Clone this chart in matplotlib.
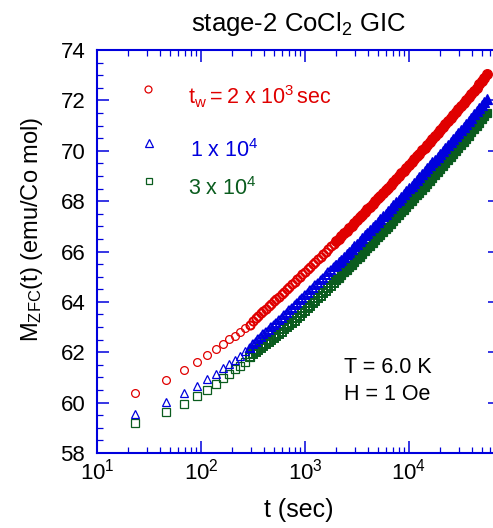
import numpy as np
import matplotlib
matplotlib.use('Agg')
import matplotlib.pyplot as plt
from matplotlib.ticker import LogLocator, MultipleLocator, NullFormatter

plt.rcParams['font.family'] = ['Liberation Sans', 'DejaVu Sans']
plt.rcParams['mathtext.fontset'] = 'custom'
plt.rcParams['mathtext.rm'] = 'Liberation Sans'
plt.rcParams['mathtext.it'] = 'Liberation Sans:italic'
plt.rcParams['mathtext.default'] = 'rm'

# elapsed time after field on (sec), same sampling for the three waiting times
t_sec = [23, 46, 69, 92, 115, 138, 161, 186, 211, 237, 265, 294,
         316, 335, 355, 376, 398, 422, 447, 473, 501, 531, 562, 596, 631, 668, 708, 750,
         794, 841, 891, 944, 1000, 1059, 1122, 1189, 1259, 1334, 1413, 1496, 1585, 1679,
         1778, 1884, 1995, 2113, 2239, 2371, 2512, 2661, 2818, 2985, 3162, 3350, 3548,
         3758, 3981, 4217, 4467, 4732, 5012, 5309, 5623, 5957, 6310, 6683, 7079, 7499,
         7943, 8414, 8913, 9441, 10000, 10593, 11220, 11885, 12589, 13335, 14125, 14962,
         15849, 16788, 17783, 18836, 19953, 21135, 22387, 23714, 25119, 26607, 28184,
         29854, 31623, 33497, 35481, 37584, 39811, 42170, 44668, 47315, 50119, 53088, 56234]

# M_ZFC (emu/Co mol) for t_w = 2e3 s
m_tw2e3 = [60.40, 60.88, 61.28, 61.62, 61.88, 62.12, 62.31, 62.51, 62.66, 62.81, 62.96, 63.10,
           63.26, 63.35, 63.45, 63.54, 63.64, 63.73, 63.82, 63.92, 64.02, 64.11, 64.21, 64.30,
           64.40, 64.50, 64.59, 64.69, 64.79, 64.89, 64.99, 65.09, 65.19, 65.29, 65.39, 65.49,
           65.59, 65.69, 65.79, 65.89, 65.99, 66.10, 66.20, 66.30, 66.41, 66.51, 66.61, 66.72,
           66.82, 66.93, 67.03, 67.14, 67.24, 67.35, 67.46, 67.57, 67.67, 67.78, 67.89, 68.00,
           68.11, 68.21, 68.32, 68.43, 68.54, 68.65, 68.77, 68.88, 68.99, 69.10, 69.21, 69.32,
           69.44, 69.55, 69.66, 69.78, 69.89, 70.01, 70.12, 70.24, 70.35, 70.47, 70.58, 70.70,
           70.82, 70.93, 71.05, 71.17, 71.29, 71.41, 71.52, 71.64, 71.76, 71.88, 72.00, 72.12,
           72.25, 72.38, 72.51, 72.64, 72.77, 72.90, 73.03]

# t_w = 1e4 s
m_tw1e4 = [59.54, 60.02, 60.38, 60.67, 60.93, 61.15, 61.37, 61.54, 61.70, 61.87, 62.03, 62.17,
           62.33, 62.42, 62.52, 62.61, 62.71, 62.80, 62.89, 62.99, 63.09, 63.18, 63.28, 63.37,
           63.47, 63.57, 63.66, 63.76, 63.86, 63.96, 64.06, 64.16, 64.26, 64.36, 64.46, 64.56,
           64.66, 64.76, 64.86, 64.96, 65.06, 65.17, 65.27, 65.37, 65.48, 65.58, 65.68, 65.79,
           65.89, 66.00, 66.10, 66.21, 66.31, 66.42, 66.53, 66.64, 66.74, 66.85, 66.96, 67.07,
           67.18, 67.28, 67.39, 67.50, 67.61, 67.72, 67.84, 67.95, 68.06, 68.17, 68.28, 68.39,
           68.51, 68.62, 68.73, 68.85, 68.96, 69.08, 69.19, 69.31, 69.42, 69.54, 69.65, 69.77,
           69.89, 70.00, 70.12, 70.24, 70.36, 70.48, 70.59, 70.71, 70.83, 70.95, 71.07, 71.19,
           71.31, 71.44, 71.56, 71.68, 71.80, 71.92, 72.05]

# t_w = 3e4 s
m_tw3e4 = [59.20, 59.62, 59.96, 60.26, 60.51, 60.73, 60.96, 61.14, 61.33, 61.47, 61.63, 61.81,
           61.95, 62.02, 62.10, 62.17, 62.25, 62.32, 62.39, 62.48, 62.57, 62.65, 62.74, 62.82,
           62.91, 63.00, 63.08, 63.17, 63.26, 63.35, 63.44, 63.54, 63.64, 63.74, 63.84, 63.94,
           64.04, 64.14, 64.24, 64.34, 64.44, 64.55, 64.65, 64.75, 64.86, 64.96, 65.06, 65.17,
           65.27, 65.38, 65.48, 65.59, 65.69, 65.80, 65.91, 66.02, 66.12, 66.23, 66.34, 66.45,
           66.56, 66.66, 66.77, 66.88, 66.99, 67.10, 67.22, 67.33, 67.44, 67.55, 67.66, 67.77,
           67.89, 68.00, 68.11, 68.23, 68.34, 68.46, 68.57, 68.69, 68.80, 68.92, 69.03, 69.15,
           69.27, 69.38, 69.50, 69.62, 69.74, 69.86, 69.98, 70.10, 70.23, 70.35, 70.48, 70.60,
           70.73, 70.86, 70.99, 71.12, 71.25, 71.38, 71.51]

RED = '#e00000'
BLUE = '#0000dd'
GREEN = '#0a5c1e'
AXC = '#0000dd'

fig = plt.figure(figsize=(4.93, 5.28), dpi=100)
ax = fig.add_axes([97 / 493, 75 / 528, 403 / 493, 403 / 528])

series = [(m_tw3e4, 's', 5.3, 0.9, GREEN), (m_tw1e4, '^', 5.8, 0.9, BLUE),
          (m_tw2e3, 'o', 5.6, 1.4, RED)]
for m, mk, ms, grow, c in series:
    # sparse early points: thin open symbols
    ax.plot(t_sec[:12], m[:12], mk, ms=ms, mfc='none', mec=c, mew=0.9, clip_on=False)
    # points start to crowd: heavier open symbols
    ax.plot(t_sec[11:45], m[11:45], mk, ms=ms + 0.3, mfc='none', mec=c, mew=1.4, clip_on=False)
    # late times: symbols overlap into a solid band
    ax.plot(t_sec[44:], m[44:], mk, ms=ms + grow, mfc=c, mec=c, mew=0.9, clip_on=False)

ax.set_xscale('log')
ax.set_xlim(10, 7.5e4)
ax.set_ylim(58, 74)
ax.xaxis.set_major_locator(LogLocator(base=10, numticks=10))
ax.xaxis.set_minor_locator(LogLocator(base=10, subs=np.arange(2, 10), numticks=20))
ax.xaxis.set_minor_formatter(NullFormatter())
ax.yaxis.set_major_locator(MultipleLocator(2))
ax.yaxis.set_minor_locator(MultipleLocator(0.5))

for s in ax.spines.values():
    s.set_color(AXC)
    s.set_linewidth(1.5)
ax.tick_params(which='both', direction='in', top=True, right=True, color=AXC,
               labelsize=16, labelcolor='black')
ax.tick_params(which='major', length=8.5, width=1.1)
ax.tick_params(which='minor', length=4.5, width=0.9)
ax.tick_params(axis='x', which='major', pad=4)
ax.tick_params(axis='y', which='major', pad=8.5)

ax.set_xlabel('t (sec)', fontsize=18)
ax.xaxis.set_label_coords(0.5, -0.112)
ax.set_ylabel(r'M$_{ZFC}$(t) (emu/Co mol)', fontsize=17)
ax.yaxis.set_label_coords(-0.13, 0.555)
ax.set_title(r'stage-2 CoCl$_2$ GIC', fontsize=18.5, pad=14)

# legend
ax.plot([0.127], [0.9025], 'o', ms=5.0, mfc='none', mec=RED, mew=0.9,
        transform=ax.transAxes, clip_on=False)
ax.plot([0.129], [0.7685], '^', ms=5.2, mfc='none', mec=BLUE, mew=0.9,
        transform=ax.transAxes, clip_on=False)
ax.plot([0.129], [0.675], 's', ms=4.8, mfc='none', mec=GREEN, mew=0.9,
        transform=ax.transAxes, clip_on=False)
ax.text(0.226, 0.866, r't$_w\:$=$\:$2 x 10$^3\,$sec', color=RED, fontsize=15.5,
        transform=ax.transAxes, va='baseline')
ax.text(0.231, 0.735, r'1 x 10$^4$', color=BLUE, fontsize=15.5,
        transform=ax.transAxes, va='baseline')
ax.text(0.226, 0.640, r'3 x 10$^4$', color=GREEN, fontsize=15.5,
        transform=ax.transAxes, va='baseline')

ax.text(0.613, 0.199, 'T = 6.0 K', fontsize=15.5, transform=ax.transAxes, va='baseline')
ax.text(0.613, 0.1315, 'H = 1 Oe', fontsize=15.5, transform=ax.transAxes, va='baseline')

fig.savefig('out.png', dpi=100)
